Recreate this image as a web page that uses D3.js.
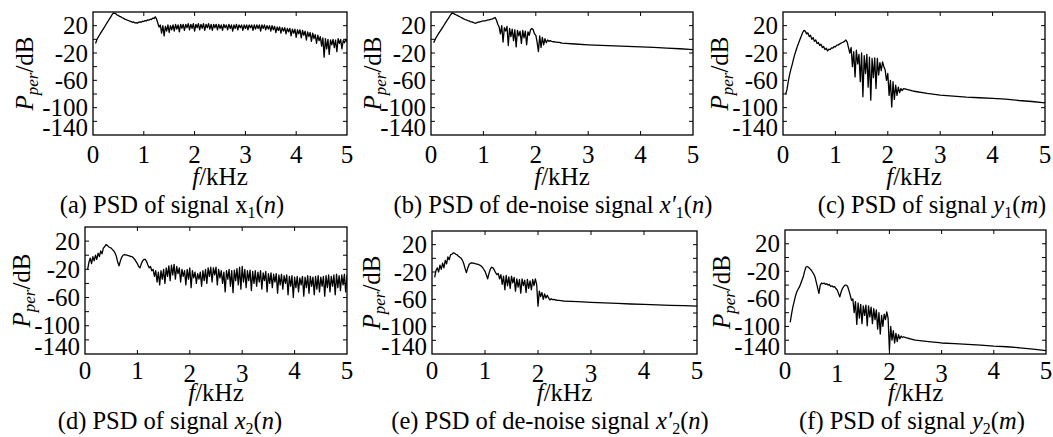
<!DOCTYPE html>
<html>
<head>
<meta charset="utf-8">
<script src="https://cdn.jsdelivr.net/npm/d3@7"></script>
<style>
  body { margin: 0; background: #fff; }
  svg text { font-family: "Liberation Serif", "Times New Roman", serif; fill: #000; }
</style>
</head>
<body>
<svg id="chart" width="1053" height="437"></svg>
<script>
// ---- data (dB values) ----
const xTicks = [0, 1, 2, 3, 4, 5];
const yLabelTicks = [20, -20, -60, -100, -140];
const yMinorTicks = [20, 0, -20, -40, -60, -80, -100, -120];
const headStep = 0.025;   // kHz between head samples
const tailStart = 2.5, tailStep = 0.25;

// (a) x1(n), 0.05 .. 5 kHz
const aHead = [
  -6,-1,3,6,9,12,15,18,21,24,
  27,30,33,36,38.5,38,37.5,35.5,35,33.5,
  33,31.5,31,29.5,29,28,27.5,26.5,26,25,
  25.5,24,24.5,23.5,25,25.5,25,26.5,26,27.5,
  27,28.5,28,29.5,29,31,30.5,33,30,24,
  18,21,9,20,5,19,12,21,10,20,
  14,21,12,22,15,21,11,22,16,22,
  13,22,17,23,14,22,16,23,12,22,
  17,23,14,22,16,23,13,22,17,23,
  15,22,13,22,17,22,14,22,16,21,
  13,22,17,21,14,22,16,21,12,21,
  16,22,14,21,17,21,13,21,16,21,
  14,21,17,21,13,21,15,21,16,21,
  12,21,16,21,14,20,15,20,12,20,
  14,19,10,18,13,18,9,17,12,17,
  8,16,11,16,5,15,9,15,3,14,
  8,14,2,13,6,12,-1,11,4,10,
  -3,9,1,7,-6,6,-2,4,-10,2,
  -26,1,-14,0,-22,-1,-8,0,-12,-1,
  -18,1,-6,0,-14,-2,-5,0,-4
];

// (b) de-noised x'1(n), 0.05 .. 2.475 kHz, then smooth tail
const bHead = [
  -5,-1,3,6,9,12,15,18,21,24,
  27,30,33,36,38.5,38,37,36,35,34,
  33,32,31,30,29,28.5,27.5,27,26,25.5,
  25,24,23.5,24.5,25,25.5,26,26.5,27,27,
  27.5,28,28.5,29,29.5,30,31,32,28,22,
  18,8,20,-4,17,12,19,-9,16,4,
  15,-2,14,-11,13,5,12,-6,13,2,
  12,-8,11,6,14,16,14,8,6,-4,
  -18,5,-12,3,-8,1,-5,-1,-3,-2,
  -3,-3.5,-3.5,-4,-4,-4.5,-4.5,-5
];
const bTail = [-5.5,-6.8,-8,-8.8,-9.5,-10.3,-11,-11.8,-12.8,-13.8,-15];

// (c) y1(m)
const cHead = [
  -80,-74,-62,-52,-44,-37,-29,-22,-16,-10,
  -5,0,5,10,13,12,8,9.5,4,6,
  0,2.5,-3,-1,-6,-4.5,-9,-7,-12,-10.5,
  -15,-13,-17,-14.5,-15,-12.5,-13,-10.5,-11,-8.5,
  -8.5,-7,-6,-5,-4,-3,-1,-4,-12,-20,
  -12,-40,-18,-55,-16,-36,-22,-62,-20,-84,
  -24,-50,-22,-70,-26,-89,-28,-56,-27,-72,
  -28,-52,-34,-46,-33,-40,-45,-60,-50,-82,
  -60,-99,-62,-88,-67,-82,-70,-78,-72,-75,
  -72,-72.5,-73,-73.5,-74,-74.5,-75,-75.5
];
const cTail = [-76,-79,-81.5,-83,-84.5,-85.5,-86.5,-87.5,-89.5,-91,-93];

// (d) x2(n), 0.05 .. 5 kHz
const dHead = [
  -20,-10,-4,-12,-2,-8,0,-6,3,-2,
  6,2,10,12,15,14,12,11,10,8,
  6,3,-2,-10,-15,-8,-3,0,1,0.5,
  0,-0.5,-1,-2,-2,-4,-6,-9,-12,-16,
  -18,-12,-8,-6,-6,-9,-14,-18,-16,-22,
  -20,-30,-22,-38,-24,-42,-22,-34,-20,-40,
  -18,-30,-15,-36,-14,-28,-13,-34,-16,-26,
  -18,-38,-20,-30,-22,-42,-20,-34,-18,-46,
  -22,-32,-24,-40,-26,-34,-24,-44,-22,-36,
  -20,-40,-18,-30,-17,-38,-18,-28,-17,-42,
  -20,-32,-22,-40,-24,-52,-22,-34,-20,-44,
  -22,-53,-21,-36,-19,-42,-17,-48,-16,-38,
  -20,-46,-22,-36,-21,-50,-23,-40,-22,-44,
  -24,-38,-22,-48,-25,-36,-23,-52,-26,-40,
  -25,-46,-27,-38,-26,-54,-28,-42,-27,-48,
  -29,-40,-28,-56,-30,-44,-29,-60,-31,-46,
  -30,-52,-32,-42,-30,-58,-31,-46,-29,-54,
  -30,-44,-31,-56,-30,-48,-29,-52,-31,-44,
  -30,-58,-29,-46,-28,-52,-30,-44,-28,-56,
  -27,-46,-29,-50,-28,-42,-27,-52,-28
];

// (e) de-noised x'2(n)
const eHead = [
  -28,-18,-14,-20,-10,-16,-7,-14,-3,-8,
  2,-2,5,6,8,7.5,6,5,3,1.5,
  0,-3,-8,-15,-21,-14,-9,-7,-6.5,-7,
  -7.5,-8,-8.5,-9,-10,-11,-13,-16,-19,-24,
  -30,-22,-16,-13,-14,-17,-21,-24,-22,-30,
  -24,-38,-26,-46,-25,-40,-27,-44,-26,-36,
  -28,-48,-30,-42,-31,-51,-30,-40,-32,-50,
  -31,-44,-33,-46,-31,-40,-30,-38,-70,-48,
  -56,-50,-60,-52,-58,-54,-58,-61,-59,-60.5,
  -60,-61,-61,-61.5,-61.5,-62,-62,-62.5
];
const eTail = [-62.5,-63.5,-64.5,-65.3,-66,-66.8,-67.5,-68,-68.7,-69.3,-70];

// (f) y2(m), starts at 0.1 kHz
const fHead = [
  -94,-82,-72,-64,-56,-50,-46,-43,-38,-33,
  -28,-20,-14,-13,-14,-16,-18,-21,-24,-28,
  -36,-44,-52,-40,-37,-38,-37,-39,-38,-40,
  -39,-42,-41,-43,-42,-45,-47,-52,-57,-50,
  -45,-42,-40,-40,-42,-48,-55,-62,-60,-80,
  -64,-97,-66,-88,-68,-96,-70,-84,-69,-99,
  -70,-86,-72,-96,-74,-90,-76,-104,-80,-111,
  -84,-100,-82,-90,-79,-88,-134,-100,-120,-106,
  -124,-110,-122,-112,-118,-114,-116,-115,-116,-116.5,
  -117,-117.5,-118,-118.5,-119,-119.5
];
const fTail = [-120,-122,-124,-125,-126,-127,-128.5,-129.5,-131,-133,-135];

// captions: [text, style]
const capA = [["(a) PSD of signal x",""],["1","sub"],["(",""],["n","i"],[")",""]];
const capB = [["(b) PSD of de-noise signal ",""],["x\u2032","i"],["1","sub"],["(",""],["n","i"],[")",""]];
const capC = [["(c) PSD of signal ",""],["y","i"],["1","sub"],["(",""],["m","i"],[")",""]];
const capD = [["(d) PSD of signal ",""],["x","i"],["2","sub"],["(",""],["n","i"],[")",""]];
const capE = [["(e) PSD of de-noise signal ",""],["x\u2032","i"],["2","sub"],["(",""],["n","i"],[")",""]];
const capF = [["(f) PSD of signal ",""],["y","i"],["2","sub"],["(",""],["m","i"],[")",""]];

// ---- layout ----
const panels = [
  { head: aHead, start: 0.05, tail: null,  box: [93, 347, 12, 135],  cap: capA, capX: 172, ylabX: 33,  drop: [0,0,0,0,0,0] },
  { head: bHead, start: 0.05, tail: bTail, box: [431, 693, 12, 135], cap: capB, capX: 553, ylabX: 381, drop: [0,0,0,0,0,0] },
  { head: cHead, start: 0.05, tail: cTail, box: [783, 1045, 12, 135], cap: capC, capX: 932, ylabX: 728, drop: [0,0,0,0,0,0] },
  { head: dHead, start: 0.05, tail: null,  box: [85, 347, 227, 354], cap: capD, capX: 170, ylabX: 30,  drop: [0,0,3,3,0,0] },
  { head: eHead, start: 0.05, tail: eTail, box: [432, 697, 231, 354], cap: capE, capX: 550, ylabX: 380, drop: [0,0,3,3,0,0] },
  { head: fHead, start: 0.1,  tail: fTail, box: [785, 1046, 230, 354], cap: capF, capX: 912, ylabX: 730, drop: [0,3,1,3,0,0] }
];

const svg = d3.select("#chart");
const tickFont = 25, capFont = 24.5;

panels.forEach(function (p, k) {
  const [x0, x1, y0, y1] = p.box;
  const x = d3.scaleLinear().domain([0, 5]).range([x0, x1]);
  const y = d3.scaleLinear().domain([-140, 40]).range([y1, y0]);
  const g = svg.append("g");

  const pts = p.head.map((v, i) => [p.start + i * headStep, v]);
  if (p.tail) p.tail.forEach((v, j) => pts.push([tailStart + j * tailStep, v]));

  g.append("clipPath").attr("id", "clip" + k)
    .append("rect").attr("x", x0).attr("y", y0).attr("width", x1 - x0).attr("height", y1 - y0);

  g.append("path")
    .datum(pts)
    .attr("clip-path", "url(#clip" + k + ")")
    .attr("fill", "none")
    .attr("stroke", "#000")
    .attr("stroke-width", 1.3)
    .attr("stroke-linejoin", "round")
    .attr("d", d3.line().x(d => x(d[0])).y(d => y(d[1])));

  // frame
  g.append("rect")
    .attr("x", x0).attr("y", y0).attr("width", x1 - x0).attr("height", y1 - y0)
    .attr("fill", "none").attr("stroke", "#000").attr("stroke-width", 1.3);

  // inward ticks
  xTicks.slice(1, -1).forEach(function (t) {
    g.append("line").attr("x1", x(t)).attr("x2", x(t)).attr("y1", y1).attr("y2", y1 - 4)
      .attr("stroke", "#000");
    g.append("line").attr("x1", x(t)).attr("x2", x(t)).attr("y1", y0).attr("y2", y0 + 4)
      .attr("stroke", "#000");
  });
  yMinorTicks.forEach(function (t) {
    g.append("line").attr("x1", x0).attr("x2", x0 + 4).attr("y1", y(t)).attr("y2", y(t))
      .attr("stroke", "#000");
    g.append("line").attr("x1", x1).attr("x2", x1 - 4).attr("y1", y(t)).attr("y2", y(t))
      .attr("stroke", "#000");
  });

  // tick labels
  yLabelTicks.forEach(function (t) {
    g.append("text")
      .attr("x", x0 - 5)
      .attr("y", Math.min(y(t), y1 - 8))
      .attr("dominant-baseline", "central")
      .attr("text-anchor", "end")
      .style("font-size", tickFont + "px")
      .text(t);
  });
  const xLabY = k < 3 ? y1 + 28 : y1 + 25;
  xTicks.forEach(function (t, i) {
    g.append("text")
      .attr("x", x(t)).attr("y", xLabY + p.drop[i])
      .attr("text-anchor", "middle")
      .style("font-size", tickFont + "px")
      .text(t);
  });

  // x title
  const xt = g.append("text")
    .attr("x", (x0 + x1) / 2).attr("y", k < 3 ? y1 + 50 : y1 + 47)
    .attr("text-anchor", "middle")
    .style("font-size", tickFont + "px");
  xt.append("tspan").style("font-style", "italic").text("f");
  xt.append("tspan").text("/kHz");

  // y title
  const yt = g.append("text")
    .attr("transform", "translate(" + p.ylabX + "," + ((y0 + y1) / 2) + ") rotate(-90)")
    .attr("text-anchor", "middle")
    .style("font-size", "25px");
  yt.append("tspan").style("font-style", "italic").text("P");
  yt.append("tspan").style("font-style", "italic").style("font-size", "17px").attr("dy", 5).text("per");
  yt.append("tspan").attr("dy", -5).text("/dB");

  // caption
  const ct = g.append("text")
    .attr("x", p.capX).attr("y", k < 3 ? y1 + 78 : y1 + 75)
    .attr("text-anchor", "middle")
    .style("font-size", capFont + "px");
  let shifted = false;
  p.cap.forEach(function (c) {
    const s = ct.append("tspan").text(c[0]);
    if (c[1] === "i") s.style("font-style", "italic");
    if (c[1] === "sub") {
      s.style("font-size", "16px").attr("dy", 5);
      shifted = true;
    } else if (shifted) {
      s.attr("dy", -5);
      shifted = false;
    }
  });
});
</script>
</body>
</html>
